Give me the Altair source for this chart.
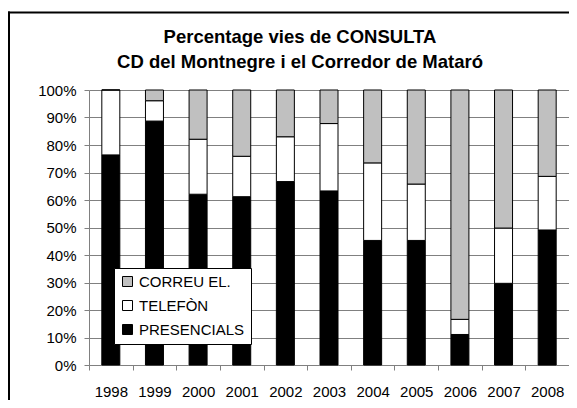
import altair as alt
import pandas as pd

years = ["1998", "1999", "2000", "2001", "2002", "2003", "2004", "2005", "2006", "2007", "2008"]
presencials = [76.4, 88.7, 62.1, 61.2, 66.7, 63.3, 45.3, 45.3, 11.1, 29.7, 49.1]
telefon = [23.6, 7.4, 20.0, 14.7, 16.3, 24.5, 28.2, 20.5, 5.5, 20.1, 19.5]
correu = [0.0, 3.9, 17.9, 24.1, 17.0, 12.2, 26.5, 34.2, 83.4, 50.2, 31.4]

categories = ["CORREU EL.", "TELEFÒN", "PRESENCIALS"]
colors = ["#c0c0c0", "#ffffff", "#000000"]
y_ticks = [0, 0.1, 0.2, 0.3, 0.4, 0.5, 0.6, 0.7, 0.8, 0.9, 1.0]
title_lines = ["Percentage vies de CONSULTA", "CD del Montnegre i el Corredor de Mataró"]

rows = []
for i, yr in enumerate(years):
    rows.append({"year": yr, "via": "PRESENCIALS", "value": presencials[i], "ord": 0})
    rows.append({"year": yr, "via": "TELEFÒN", "value": telefon[i], "ord": 1})
    rows.append({"year": yr, "via": "CORREU EL.", "value": correu[i], "ord": 2})
df = pd.DataFrame(rows)

FONT = "Liberation Sans"
GRID = "#808080"

frame_top = alt.Chart(alt.Data(values=[{"a": 1}])).mark_rule(
    color="black", strokeWidth=2
).encode(x=alt.value(-81), x2=alt.value(600), y=alt.value(-77.5))

frame_left = alt.Chart(alt.Data(values=[{"a": 1}])).mark_rule(
    color="black", strokeWidth=2
).encode(x=alt.value(-80), y=alt.value(-78.5), y2=alt.value(400))

title1 = alt.Chart(alt.Data(values=[{"t": title_lines[0]}])).mark_text(
    font=FONT, fontSize=18.5, fontWeight="bold", color="black",
    align="center", baseline="alphabetic",
).encode(text="t:N", x=alt.value(211), y=alt.value(-47))

title2 = alt.Chart(alt.Data(values=[{"t": title_lines[1]}])).mark_text(
    font=FONT, fontSize=18.5, fontWeight="bold", color="black",
    align="center", baseline="alphabetic",
).encode(text="t:N", x=alt.value(211), y=alt.value(-22))

bars = alt.Chart(df).mark_bar(size=18, stroke="black", strokeWidth=1).encode(
    x=alt.X(
        "year:N",
        title=None,
        sort=years,
        scale=alt.Scale(paddingInner=0, paddingOuter=0),
        axis=alt.Axis(
            labelAngle=0, tickBand="extent", grid=False,
            domainColor=GRID, tickColor=GRID, tickSize=5,
            labelFont=FONT, labelFontSize=15, labelColor="black", labelPadding=14,
        ),
    ),
    y=alt.Y(
        "value:Q",
        stack="normalize",
        title=None,
        scale=alt.Scale(domain=[0, 1], nice=False),
        axis=alt.Axis(
            values=y_ticks, format=".0%", grid=True, gridColor=GRID,
            domainColor=GRID, tickColor=GRID, tickSize=5,
            labelFont=FONT, labelFontSize=15, labelColor="black", labelPadding=8,
        ),
    ),
    color=alt.Color(
        "via:N",
        scale=alt.Scale(domain=categories, range=colors),
        legend=alt.Legend(
            title=None, orient="none", legendX=25, legendY=178,
            fillColor="white", strokeColor="black", padding=6,
            labelFont=FONT, labelFontSize=15, labelColor="black",
            symbolType="square", symbolSize=100, symbolStrokeColor="black",
            symbolStrokeWidth=1, rowPadding=8,
        ),
    ),
    order=alt.Order("ord:Q"),
)

chart = alt.layer(frame_top, frame_left, bars, title1, title2).properties(
    width=480,
    height=275,
    padding={"left": 81, "top": 82, "right": 0, "bottom": 35},
    autosize=alt.AutoSizeParams(type="none"),
).configure_view(strokeWidth=0)

chart.save("out.html", embed_options={"renderer": "svg", "actions": False})
